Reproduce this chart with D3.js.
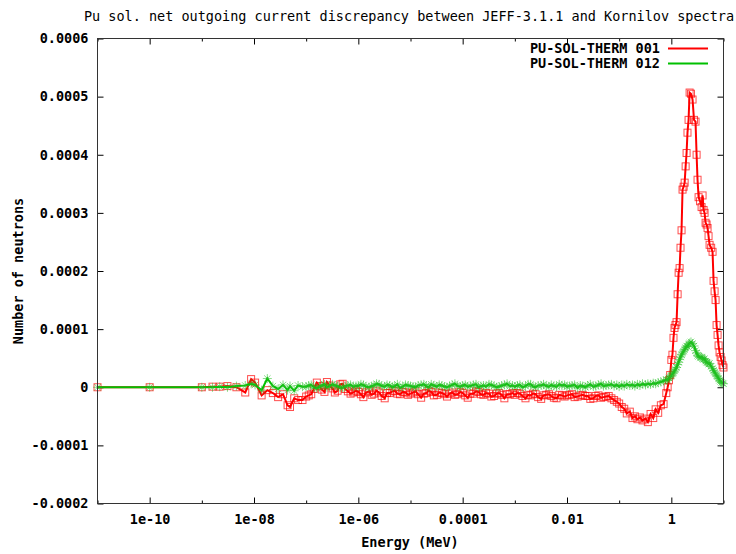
<!DOCTYPE html>
<html>
<head>
<meta charset="utf-8">
<title>Pu sol. net outgoing current discrepancy</title>
<script src="https://d3js.org/d3.v7.min.js"></script>
<style>
  body { margin: 0; background: #fff; }
  text { font-family: "DejaVu Sans Mono", monospace; font-size: 13.5px; fill: #000; }
</style>
</head>
<body>
<div id="chart"></div>
<script>
// energy grid (MeV), one row per decade or so
var energy = [
  1e-11, 1e-10, 1e-9, 1.6e-9, 2.2e-9, 3.1e-9, 4.6e-9, 6.8e-9, 8.8e-9,
  1.05e-8, 1.4e-8, 1.8e-8, 2.3e-8, 2.9e-8, 3.6e-8, 4.4e-8, 4.9e-8, 5.9e-8, 7e-8, 8.5e-8,
  1e-7, 1.12e-7, 1.25e-7, 1.4e-7, 1.6e-7, 1.8e-7, 2e-7, 2.24e-7, 2.5e-7, 2.8e-7, 3.2e-7, 3.55e-7, 4e-7, 4.5e-7, 5e-7, 5.6e-7, 6.3e-7, 7.1e-7, 8e-7, 9e-7,
  1e-6, 1.12e-6, 1.25e-6, 1.4e-6, 1.6e-6, 1.8e-6, 2e-6, 2.24e-6, 2.5e-6, 2.8e-6, 3.2e-6, 3.55e-6, 4e-6, 4.5e-6, 5e-6, 5.6e-6, 6.3e-6, 7.1e-6, 8e-6, 9e-6,
  1e-5, 1.12e-5, 1.25e-5, 1.4e-5, 1.6e-5, 1.8e-5, 2e-5, 2.24e-5, 2.5e-5, 2.8e-5, 3.2e-5, 3.55e-5, 4e-5, 4.5e-5, 5e-5, 5.6e-5, 6.3e-5, 7.1e-5, 8e-5, 9e-5,
  1e-4, 1.12e-4, 1.25e-4, 1.4e-4, 1.6e-4, 1.8e-4, 2e-4, 2.24e-4, 2.5e-4, 2.8e-4, 3.2e-4, 3.55e-4, 4e-4, 4.5e-4, 5e-4, 5.6e-4, 6.3e-4, 7.1e-4, 8e-4, 9e-4,
  1e-3, 1.12e-3, 1.25e-3, 1.4e-3, 1.6e-3, 1.8e-3, 2e-3, 2.24e-3, 2.5e-3, 2.8e-3, 3.2e-3, 3.55e-3, 4e-3, 4.5e-3, 5e-3, 5.6e-3, 6.3e-3, 7.1e-3, 8e-3, 9e-3,
  0.01, 0.0112, 0.0125, 0.014, 0.016, 0.018, 0.02, 0.0224, 0.025, 0.028, 0.032, 0.0355, 0.04, 0.045, 0.05, 0.056, 0.063, 0.071, 0.08, 0.09,
  0.1, 0.112, 0.125, 0.14, 0.16, 0.18, 0.2, 0.224, 0.25, 0.28,
  0.32, 0.355, 0.4, 0.45, 0.5, 0.56, 0.63, 0.71, 0.8, 0.85, 0.9, 0.95,
  1.0, 1.05, 1.1, 1.15, 1.2, 1.26, 1.32, 1.38, 1.44, 1.5,
  1.57, 1.64, 1.72, 1.8, 1.88, 1.96, 2.04, 2.14, 2.24, 2.38,
  2.55, 2.72, 2.91, 3.05, 3.18, 3.33, 3.55, 3.8, 3.97, 4.15,
  4.34, 4.53, 4.74, 4.95, 5.17, 5.41, 5.8, 6.17, 6.45, 6.75,
  7.05, 7.37, 7.7, 8.05, 8.4, 8.8, 9.2, 9.6, 10
];

// PU-SOL-THERM 001
var therm001 = [
  0, 0, 0, 1e-6, 1e-6, 2e-6, 0, -9e-6, 1.4e-5,
  8e-6, -1.4e-5, -5e-6, -1.0e-5, -1.7e-5, -1.2e-5, -3.1e-5, -3.4e-5, -1.9e-5, -2.2e-5, -2.2e-5,
  -1.6e-5, -1.4e-5, -1.2e-5, -3e-6, 8e-6, 2e-6, -4e-6, -8e-6, 9e-6, 3e-6, -2e-6, -9e-6, -6e-6, 5e-6, 6e-6, -3e-6, -7e-6, -1.1e-5, -9e-6, -6e-6,
  -8e-6, -1.2e-5, -1.7e-5, -9e-6, -7e-6, -1.3e-5, -1.1e-5, -6e-6, -9e-6, -1.5e-5, -1.9e-5, -1.0e-5, -1.0e-5, -7e-6, -6e-6, -1.1e-5, -1.2e-5, -8e-6, -9e-6, -1.3e-5,
  -1.1e-5, -9e-6, -7e-6, -1.2e-5, -1.8e-5, -1.1e-5, -1.0e-5, -6e-6, -8e-6, -1.4e-5, -1.3e-5, -9e-6, -1.0e-5, -1.2e-5, -1.6e-5, -1.1e-5, -9e-6, -1.3e-5, -1.2e-5, -8e-6,
  -1.0e-5, -1.4e-5, -1.8e-5, -1.1e-5, -1.1e-5, -7e-6, -8e-6, -1.2e-5, -1.3e-5, -1.0e-5, -1.1e-5, -1.6e-5, -1.5e-5, -1.1e-5, -1.0e-5, -1.3e-5, -1.9e-5, -1.2e-5, -1.2e-5, -1.0e-5,
  -1.3e-5, -1.0e-5, -1.1e-5, -1.5e-5, -1.9e-5, -1.3e-5, -1.4e-5, -1.1e-5, -1.2e-5, -1.7e-5, -2.0e-5, -1.4e-5, -1.3e-5, -1.2e-5, -1.5e-5, -1.8e-5, -1.9e-5, -1.3e-5, -1.4e-5, -1.6e-5,
  -1.4e-5, -1.3e-5, -1.2e-5, -1.7e-5, -1.6e-5, -1.4e-5, -1.3e-5, -1.5e-5, -1.5e-5, -2.0e-5, -1.9e-5, -1.5e-5, -1.4e-5, -1.8e-5, -1.7e-5, -1.6e-5, -1.5e-5, -1.9e-5, -2.2e-5, -2.5e-5,
  -2.8e-5, -3.4e-5, -3.7e-5, -4.5e-5, -4.2e-5, -5.3e-5, -5.0e-5, -5.5e-5, -5.2e-5, -5.7e-5,
  -5.4e-5, -6.0e-5, -4.6e-5, -5.3e-5, -3.8e-5, -4.4e-5, -3.1e-5, -2.9e-5, -1.0e-5, 0, 1.2e-5, 2.1e-5,
  4.7e-5, 5.6e-5, 8.5e-5, 1.02e-4, 1.07e-4, 1.12e-4, 1.6e-4, 1.97e-4, 2.05e-4, 2.4e-4,
  2.7e-4, 3.4e-4, 3.45e-4, 3.52e-4, 3.8e-4, 4.03e-4, 4.38e-4, 4.6e-4, 5.07e-4, 5.05e-4,
  4.95e-4, 4.6e-4, 4.57e-4, 4.0e-4, 3.57e-4, 3.27e-4, 3.2e-4, 3.1e-4, 3.3e-4, 3.05e-4,
  3.0e-4, 2.83e-4, 2.8e-4, 2.74e-4, 2.6e-4, 2.45e-4, 2.4e-4, 2.33e-4, 1.83e-4, 1.65e-4,
  1.5e-4, 1.07e-4, 9.0e-5, 7.2e-5, 6.0e-5, 5.2e-5, 4.6e-5, 3.8e-5, 3.4e-5
];

// PU-SOL-THERM 012
var therm012 = [
  0, 0, 0, 0, 1e-6, 0, 2e-6, 3e-6, 6e-6,
  4e-6, -5e-6, 1.5e-5, 2e-6, -3e-6, 4e-6, -5e-6, 2e-6, -6e-6, 3e-6, 1e-6,
  1e-6, 3e-6, 4e-6, 0, -2e-6, 1e-6, 3e-6, 5e-6, 0, 2e-6, 5e-6, 3e-6, 2e-6, -1e-6, -1e-6, 2e-6, 3e-6, 4e-6, 1e-6, 2e-6,
  2e-6, 5e-6, 4e-6, 1e-6, 0, 2e-6, 3e-6, 6e-6, 5e-6, 2e-6, 1e-6, 4e-6, 3e-6, 0, 2e-6, 5e-6, -1e-6, 1e-6, 4e-6, 3e-6,
  2e-6, 1e-6, 0, 3e-6, 4e-6, 5e-6, 2e-6, 0, 5e-6, 3e-6, 1e-6, 4e-6, 3e-6, 1e-6, 0, 2e-6, 4e-6, 6e-6, 2e-6, 1e-6,
  3e-6, 4e-6, 1e-6, 2e-6, 4e-6, 5e-6, 0, 2e-6, 3e-6, 1e-6, 5e-6, 4e-6, 2e-6, 0, 1e-6, 3e-6, 4e-6, 6e-6, 2e-6, 3e-6,
  1e-6, 3e-6, 4e-6, 0, 2e-6, 5e-6, 5e-6, 1e-6, 0, 3e-6, 3e-6, 5e-6, 2e-6, 1e-6, 4e-6, 2e-6, 1e-6, 5e-6, 3e-6, 4e-6,
  1e-6, 2e-6, 3e-6, 4e-6, -1e-6, 3e-6, 2e-6, 0, 3e-6, 5e-6, 1e-6, 2e-6, 4e-6, 6e-6, 2e-6, 3e-6, 4e-6, 5e-6, 2e-6, 4e-6,
  1e-6, 4e-6, 2e-6, 5e-6, 3e-6, 4e-6, 2e-6, 5e-6, 3e-6, 6e-6,
  4e-6, 6e-6, 5e-6, 7e-6, 6e-6, 8e-6, 9e-6, 1.1e-5, 1.3e-5, 1.2e-5, 1.6e-5, 1.8e-5,
  2.0e-5, 2.3e-5, 2.5e-5, 2.8e-5, 3.1e-5, 3.4e-5, 3.9e-5, 4.3e-5, 4.8e-5, 5.2e-5,
  5.6e-5, 5.9e-5, 6.2e-5, 6.5e-5, 6.8e-5, 7.1e-5, 7.0e-5, 7.4e-5, 7.6e-5, 7.8e-5,
  7.5e-5, 7.1e-5, 6.3e-5, 5.9e-5, 5.5e-5, 5.3e-5, 5.1e-5, 5.2e-5, 5.0e-5, 4.8e-5,
  4.9e-5, 4.5e-5, 4.3e-5, 4.2e-5, 4.0e-5, 4.1e-5, 3.6e-5, 3.2e-5, 2.9e-5, 2.6e-5,
  2.3e-5, 2.0e-5, 1.8e-5, 1.5e-5, 1.2e-5, 1.0e-5, 8e-6, 7e-6, 6e-6
];

var seriesNames = ["PU-SOL-THERM 001", "PU-SOL-THERM 012"];
var xTicks = [1e-10, 1e-8, 1e-6, 1e-4, 1e-2, 1];
var xTickLabels = ["1e-10", "1e-08", "1e-06", "0.0001", "0.01", "1"];
var xMinorTicks = [1e-11, 1e-9, 1e-7, 1e-5, 1e-3, 0.1, 10];
var yTicks = [-0.0002, -0.0001, 0, 0.0001, 0.0002, 0.0003, 0.0004, 0.0005, 0.0006];
var yTickLabels = ["-0.0002", "-0.0001", "0", "0.0001", "0.0002", "0.0003", "0.0004", "0.0005", "0.0006"];

var width = 736, height = 554;
var plotLeft = 97.5, plotRight = 723.5, plotTop = 38.5, plotBottom = 503.5;

var svg = d3.select("#chart").append("svg")
  .attr("width", width)
  .attr("height", height);

var x = d3.scaleLog().domain([1e-11, 10]).range([plotLeft, plotRight]);
var y = d3.scaleLinear().domain([-0.0002, 0.0006]).range([plotBottom, plotTop]);

// axes with inward ticks
svg.append("g")
  .attr("transform", "translate(0," + plotBottom + ")")
  .call(d3.axisBottom(x).tickValues(xTicks)
    .tickFormat(function(d, i) { return xTickLabels[i]; })
    .tickSizeInner(-6).tickSizeOuter(0).tickPadding(11))
  .call(function(g) { g.select(".domain").remove(); });

svg.append("g")
  .attr("transform", "translate(0," + plotTop + ")")
  .call(d3.axisTop(x).tickValues(xTicks).tickFormat("").tickSizeInner(-6).tickSizeOuter(0))
  .call(function(g) { g.select(".domain").remove(); });

svg.append("g")
  .attr("transform", "translate(0," + plotBottom + ")")
  .call(d3.axisBottom(x).tickValues(xMinorTicks).tickFormat("").tickSizeInner(-3).tickSizeOuter(0))
  .call(function(g) { g.select(".domain").remove(); });

svg.append("g")
  .attr("transform", "translate(0," + plotTop + ")")
  .call(d3.axisTop(x).tickValues(xMinorTicks).tickFormat("").tickSizeInner(-3).tickSizeOuter(0))
  .call(function(g) { g.select(".domain").remove(); });

svg.append("g")
  .attr("transform", "translate(" + plotLeft + ",0)")
  .call(d3.axisLeft(y).tickValues(yTicks)
    .tickFormat(function(d, i) { return yTickLabels[i]; })
    .tickSizeInner(-6).tickSizeOuter(0).tickPadding(9))
  .call(function(g) { g.select(".domain").remove(); });

svg.append("g")
  .attr("transform", "translate(" + plotRight + ",0)")
  .call(d3.axisRight(y).tickValues(yTicks).tickFormat("").tickSizeInner(-6).tickSizeOuter(0))
  .call(function(g) { g.select(".domain").remove(); });

svg.selectAll(".tick line").attr("stroke", "#000");
svg.selectAll(".tick text")
  .style("font-family", "'DejaVu Sans Mono', monospace")
  .style("font-size", "13.5px")
  .style("font-weight", "bold");

var line = d3.line()
  .x(function(d) { return x(d[0]); })
  .y(function(d) { return y(d[1]); });

var red = energy.map(function(e, i) { return [e, therm001[i]]; });
var green = energy.map(function(e, i) { return [e, therm012[i]]; });

// series 001: red line + open squares
svg.append("path")
  .datum(red)
  .attr("d", line)
  .attr("fill", "none")
  .attr("stroke", "#ff0000")
  .attr("stroke-width", 2);

svg.append("g").selectAll("rect")
  .data(red)
  .enter()
  .append("rect")
  .attr("x", function(d) { return x(d[0]) - 3.5; })
  .attr("y", function(d) { return y(d[1]) - 3.5; })
  .attr("width", 7)
  .attr("height", 7)
  .attr("fill", "none")
  .attr("stroke", "#ff0000")
  .attr("stroke-opacity", 0.7)
  .attr("stroke-width", 1);

// series 012: green line + asterisks
svg.append("path")
  .datum(green)
  .attr("d", line)
  .attr("fill", "none")
  .attr("stroke", "#00c000")
  .attr("stroke-width", 2);

svg.append("g").selectAll("path")
  .data(green)
  .enter()
  .append("path")
  .attr("transform", function(d) { return "translate(" + x(d[0]) + "," + y(d[1]) + ")"; })
  .attr("d", "M-4.5,0H4.5M0,-4.5V4.5M-3.2,-3.2L3.2,3.2M-3.2,3.2L3.2,-3.2")
  .attr("fill", "none")
  .attr("stroke", "#22c022")
  .attr("stroke-opacity", 0.55)
  .attr("stroke-width", 1);

// border
svg.append("rect")
  .attr("x", plotLeft)
  .attr("y", plotTop)
  .attr("width", plotRight - plotLeft)
  .attr("height", plotBottom - plotTop)
  .attr("fill", "none")
  .attr("stroke", "#333")
  .attr("stroke-width", 1);

// legend
var legendColors = ["#ff0000", "#00c000"];
var legend = svg.append("g").selectAll("g")
  .data(seriesNames)
  .enter()
  .append("g")
  .attr("transform", function(d, i) { return "translate(0," + (48.5 + i * 15) + ")"; });

legend.append("text")
  .attr("x", 660)
  .attr("dy", "0.35em")
  .attr("text-anchor", "end")
  .style("font-weight", "bold")
  .text(function(d) { return d; });

legend.append("line")
  .attr("x1", 668)
  .attr("x2", 708)
  .attr("stroke", function(d, i) { return legendColors[i]; })
  .attr("stroke-width", 2);

// title and axis labels
svg.append("text")
  .attr("x", 409)
  .attr("y", 21)
  .attr("text-anchor", "middle")
  .text("Pu sol. net outgoing current discrepancy between JEFF-3.1.1 and Kornilov spectra");

svg.append("text")
  .attr("x", 410)
  .attr("y", 547)
  .attr("text-anchor", "middle")
  .style("font-weight", "bold")
  .text("Energy (MeV)");

svg.append("text")
  .attr("transform", "translate(23,271) rotate(-90)")
  .attr("text-anchor", "middle")
  .style("font-weight", "bold")
  .text("Number of neutrons");
</script>
</body>
</html>
